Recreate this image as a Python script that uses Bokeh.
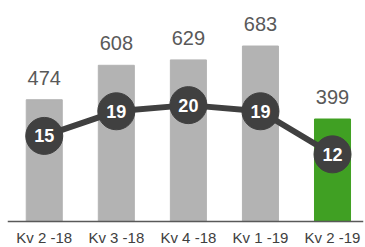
from bokeh.plotting import figure
from bokeh.models import Range1d, ColumnDataSource, Span
from bokeh.core.properties import value
from bokeh.embed import file_html
from bokeh.resources import INLINE

categories = ["Kv 2 -18", "Kv 3 -18", "Kv 4 -18", "Kv 1 -19", "Kv 2 -19"]
bar_values = [474, 608, 629, 683, 399]
line_values = [15, 19, 20, 19, 12]
bar_colors = ["#b3b3b3", "#b3b3b3", "#b3b3b3", "#b3b3b3", "#40a023"]

xs = list(range(len(categories)))
src = ColumnDataSource(dict(
    x=xs, bar=bar_values, line=line_values, color=bar_colors,
    cat=categories, zero=[0] * len(xs),
    bar_label=[str(v) for v in bar_values],
    line_label=[str(v) for v in line_values],
))

p = figure(width=365, height=247, output_backend="svg", toolbar_location=None,
           x_range=Range1d(-0.51, 4.43), y_range=Range1d(-101, 829),
           x_axis_location=None, y_axis_location=None,
           min_border_left=7, min_border_right=2,
           min_border_top=8, min_border_bottom=0)
p.extra_y_ranges = {"line": Range1d(-3.13, 35.7)}
p.outline_line_color = None
p.xgrid.visible = False
p.ygrid.visible = False
p.background_fill_color = "white"
p.border_fill_color = "white"

p.vbar(x="x", top="bar", width=0.5, color="color", source=src)
p.add_layout(Span(location=0, dimension="width", line_color="#595959",
                  line_width=1.5))
p.text(x="x", y="bar", text="bar_label", source=src, y_offset=-15,
       text_align="center", text_baseline="bottom",
       text_font=value("Liberation Sans"), text_font_size="20px",
       text_color="#595959")

p.line(x="x", y="line", source=src, y_range_name="line",
       line_color="#404040", line_width=6)
p.scatter(x="x", y="line", source=src, y_range_name="line", marker="circle",
          size=37, fill_color="#404040", line_color="#404040")
p.text(x="x", y="line", text="line_label", source=src, y_range_name="line",
       text_align="center", text_baseline="middle",
       text_font=value("Liberation Sans"), text_font_style="bold",
       text_font_size="18px", text_color="white")

# category labels below the baseline
p.text(x="x", y="zero", text="cat", source=src, y_offset=24,
       text_align="center", text_baseline="bottom",
       text_font=value("Liberation Sans"), text_font_size="15px",
       text_color="#404040")

open("out.html", "w").write(file_html(p, INLINE))
